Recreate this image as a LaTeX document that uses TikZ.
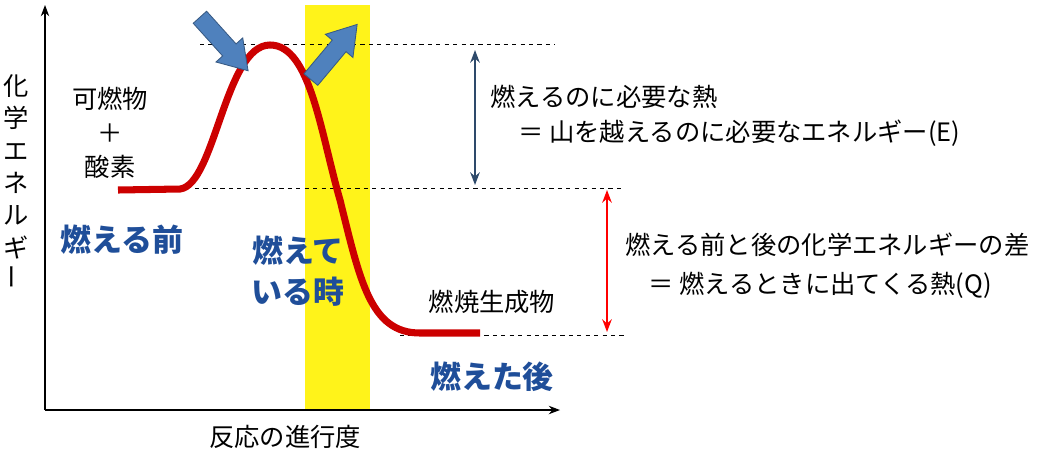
\documentclass[tikz,border=0pt]{standalone}
\usepackage{fontspec}
\setmainfont{Noto Sans CJK JP}
\usetikzlibrary{arrows.meta}
\definecolor{tblue}{HTML}{1F4E99}
\definecolor{fat}{HTML}{4F81BD}
\definecolor{navy}{HTML}{2E4A6B}
\tikzset{
  txt/.style={font=\fontsize{18pt}{22pt}\selectfont, inner sep=0pt},
  btxt/.style={font=\fontsize{22pt}{29pt}\selectfont\bfseries, text=tblue, inner sep=0pt, align=center},
  dashline/.style={dashed, line width=0.6pt},
  fatarrow/.style={fill=fat, draw=fat!70!black, line width=0.6pt},
}
\begin{document}
\begin{tikzpicture}[x=0.025cm,y=-0.025cm]
\useasboundingbox (0,0) rectangle (1056,456);
\fill[yellow!90!white] (305,5) rectangle (370,410);
\draw[-{Stealth[length=8pt]}, line width=0.8pt] (45,410) -- (45,5);
\draw[-{Stealth[length=8pt]}, line width=0.8pt] (45,410) -- (560,410);
\coordinate (d1a) at (200,44); \coordinate (d1b) at (555,44);
\coordinate (d2a) at (195,188); \coordinate (d2b) at (625,188);
\coordinate (d3a) at (400,335); \coordinate (d3b) at (625,335);
\draw[dashline] (d1a) -- (d1b);
\draw[dashline] (d2a) -- (d2b);
\draw[dashline] (d3a) -- (d3b);
\draw[red!80!black, line width=5pt] (118,190) -- (180,189) .. controls (215,185) and (225,45) .. (270,45)
  .. controls (310,45) and (320,130) .. (340,200) .. controls (360,280) and (370,333) .. (420,333) -- (480,333);
\coordinate (ea) at (475,50); \coordinate (eb) at (475,185);
\draw[{Stealth[length=9pt]}-{Stealth[length=9pt]}, navy, line width=2pt] (ea) -- (eb);
\coordinate (qa) at (607,190); \coordinate (qb) at (607,332);
\draw[{Stealth[length=9pt]}-{Stealth[length=9pt]}, red, line width=1.5pt] (qa) -- (qb);
\begin{scope}[shift={(224,44)}, rotate=-48]
\draw[fatarrow] (-36,-9) -- (8,-9) -- (8,-18) -- (36,0) -- (8,18) -- (8,9) -- (-36,9) -- cycle;
\end{scope}
\begin{scope}[shift={(334,52)}, rotate=50]
\draw[fatarrow] (-36,-9) -- (8,-9) -- (8,-18) -- (36,0) -- (8,18) -- (8,9) -- (-36,9) -- cycle;
\end{scope}
\node[txt, align=center] (reac) at (110,133) {可燃物\\[2pt]＋\\[2pt]酸素};
\node[btxt] (before) at (122,240) {燃える前};
\node[btxt] (during) at (298,271) {燃えて\\いる時};
\node[txt] (prod) at (492,302) {燃焼生成物};
\node[btxt] (after) at (492,377) {燃えた後};
\node[txt, anchor=west] (e1) at (490,97) {燃えるのに必要な熱};
\node[txt, anchor=west] (e2) at (518,133) {＝ 山を越えるのに必要なエネルギー(E)};
\node[txt, anchor=west] (q1) at (625,245) {燃える前と後の化学エネルギーの差};
\node[txt, anchor=west] (q2) at (648,285) {＝ 燃えるときに出てくる熱(Q)};
\node[txt, align=center, font=\fontsize{18pt}{23pt}\selectfont] (ylab) at (16,182) {化\\学\\エ\\ネ\\ル\\ギ\\\rotatebox{90}{ー}};
\node[txt] (xlab) at (285,437) {反応の進行度};
\end{tikzpicture}
\end{document}
